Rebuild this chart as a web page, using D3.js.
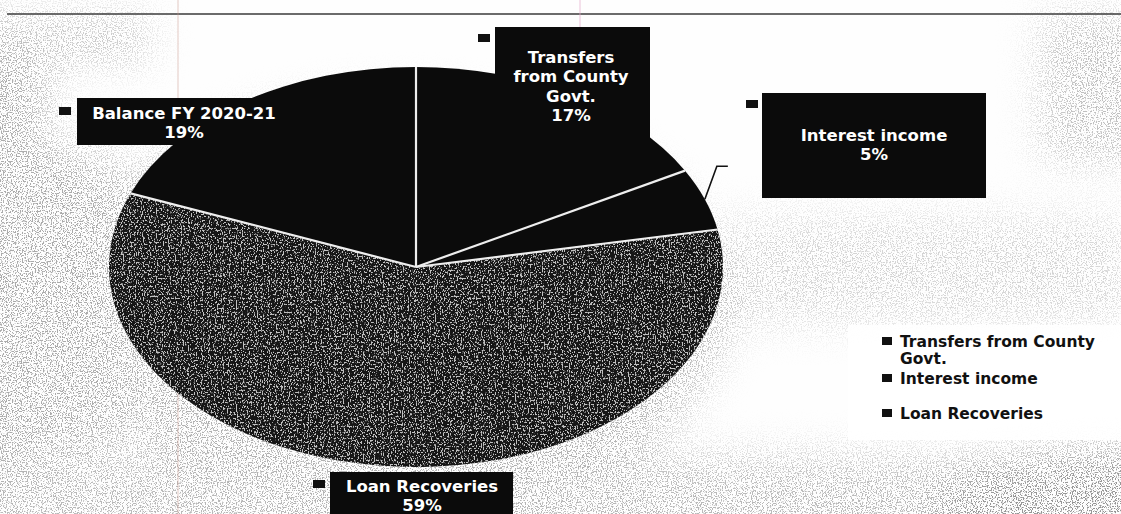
<!DOCTYPE html>
<html lang="en">
<head>
  <meta charset="UTF-8">
  <script src="https://d3js.org/d3.v7.min.js"></script>
  <title>Funding sources</title>
  <style>
    body { margin: 0; background: #fff; }
    text { font-family: "DejaVu Sans", "Open Sans", sans-serif; font-weight: 700; }
  </style>
</head>
<body>
  <script>
    // data
    var categories = ['Transfers from County Govt.', 'Interest income', 'Loan Recoveries', 'Balance FY 2020-21'];
    var percents = [17, 5, 59, 19];
    var labelLines = [['Transfers', 'from County', 'Govt.'], ['Interest income'], ['Loan Recoveries'], ['Balance FY 2020-21']];
    var legendCategories = ['Transfers from County Govt.', 'Interest income', 'Loan Recoveries'];
    var legendLines = [['Transfers from County', 'Govt.'], ['Interest income'], ['Loan Recoveries']];

    var width = 1121, height = 514;
    var cx = 416, cy = 267, rx = 307, ry = 200;

    // label box layout (placed by hand like the original)
    var labelBoxes = [
      {x: 495, y: 27, w: 155, h: 115, tx: 571, ty: 57, mx: 478, my: 34},
      {x: 762, y: 93, w: 224, h: 105, tx: 874, ty: 135, mx: 746, my: 100},
      {x: 330, y: 472, w: 183, h: 60, tx: 422, ty: 486, mx: 313, my: 480},
      {x: 77, y: 98, w: 225, h: 47, tx: 184, ty: 113, mx: 59, my: 107}
    ];
    var sliceFill = ['#0b0b0b', '#0b0b0b', '#161616', '#0b0b0b'];

    var svg = d3.select('body').append('svg')
      .attr('width', width)
      .attr('height', height);

    var defs = svg.append('defs');

    // grey speckle of the photocopy
    var f1 = defs.append('filter').attr('id', 'speck')
      .attr('x', 0).attr('y', 0).attr('width', 1).attr('height', 1);
    f1.append('feTurbulence').attr('type', 'fractalNoise')
      .attr('baseFrequency', 0.8).attr('numOctaves', 2).attr('seed', 4);
    f1.append('feColorMatrix').attr('type', 'matrix')
      .attr('values', '0 0 0 0 0.3  0 0 0 0 0.3  0 0 0 0 0.3  -10 0 0 0 4.85');

    // light speckle for the grey slice
    var f2 = defs.append('filter').attr('id', 'speckW')
      .attr('x', 0).attr('y', 0).attr('width', 1).attr('height', 1);
    f2.append('feTurbulence').attr('type', 'fractalNoise')
      .attr('baseFrequency', '0.85 0.5').attr('numOctaves', 2).attr('seed', 11);
    f2.append('feColorMatrix').attr('type', 'matrix')
      .attr('values', '0 0 0 0 0.85  0 0 0 0 0.85  0 0 0 0 0.85  10 0 0 0 -5.3');

    var blur = defs.append('filter').attr('id', 'soft')
      .attr('x', '-20%').attr('y', '-20%').attr('width', '140%').attr('height', '140%');
    blur.append('feGaussianBlur').attr('stdDeviation', 20);

    // where the scan is dirty
    var mask = defs.append('mask').attr('id', 'dirt')
      .attr('maskUnits', 'userSpaceOnUse')
      .attr('x', 0).attr('y', 0).attr('width', width).attr('height', height);
    mask.append('rect').attr('width', width).attr('height', height).attr('fill', '#000');
    var mg = mask.append('g').attr('filter', 'url(#soft)');
    mg.append('rect').attr('x', -40).attr('y', 14).attr('width', 90).attr('height', height).attr('fill', '#ccc');
    mg.append('rect').attr('x', 0).attr('y', 455).attr('width', width).attr('height', 100).attr('fill', '#aaa');
    mg.append('ellipse').attr('cx', 1110).attr('cy', 505).attr('rx', 170).attr('ry', 60).attr('fill', '#fff');
    mg.append('rect').attr('x', 1040).attr('y', 14).attr('width', 120).attr('height', 150).attr('fill', '#999');
    mg.append('rect').attr('x', 0).attr('y', 14).attr('width', 150).attr('height', 50).attr('fill', '#999');
    mg.append('ellipse').attr('cx', cx - 20).attr('cy', cy + 40).attr('rx', rx + 25).attr('ry', ry + 10).attr('fill', '#bbb');
    mg.append('rect').attr('x', 730).attr('y', 215).attr('width', 400).attr('height', 110).attr('fill', '#666');
    mg.append('rect').attr('x', 30).attr('y', 150).attr('width', 90).attr('height', 300).attr('fill', '#ccc');

    var greyClip = defs.append('clipPath').attr('id', 'greyClip');

    // background + dirt
    svg.append('rect').attr('width', width).attr('height', height).attr('fill', '#fefefe');
    svg.append('rect').attr('width', width).attr('height', height)
      .attr('fill', '#000').attr('filter', 'url(#speck)')
      .attr('mask', 'url(#dirt)');

    // top border of the chart area
    svg.append('line').attr('x1', 7).attr('x2', width).attr('y1', 14).attr('y2', 14)
      .attr('stroke', '#3a3a3a').attr('stroke-width', 1.5);

    // scan artefact lines
    svg.append('line').attr('x1', 178).attr('x2', 178).attr('y1', 0).attr('y2', height)
      .attr('stroke', '#c9968a').attr('stroke-width', 1).attr('opacity', 0.5);
    svg.append('line').attr('x1', 580).attr('x2', 580).attr('y1', 0).attr('y2', 27)
      .attr('stroke', '#e3a9c8').attr('stroke-width', 1).attr('opacity', 0.7);

    // pie, squashed into an ellipse
    var data = categories.map(function(c, i) { return {name: c, value: percents[i], i: i}; });
    var pie = d3.pie().sort(null).value(function(d) { return d.value; });
    var arcs = pie(data);
    var arc = d3.arc().innerRadius(0).outerRadius(rx);

    var pg = svg.append('g')
      .attr('transform', 'translate(' + cx + ',' + cy + ') scale(1,' + (ry / rx) + ')');

    pg.selectAll('path.slice')
      .data(arcs)
      .enter().append('path')
      .attr('class', 'slice')
      .attr('d', arc)
      .attr('fill', function(d) { return sliceFill[d.data.i]; });

    // grain inside the Loan Recoveries slice
    greyClip.append('path')
      .attr('transform', 'translate(' + cx + ',' + cy + ') scale(1,' + (ry / rx) + ')')
      .attr('d', arc(arcs[2]));
    svg.append('rect').attr('x', cx - rx).attr('y', cy - ry).attr('width', rx * 2).attr('height', ry * 2)
      .attr('fill', '#fff').attr('filter', 'url(#speckW)')
      .attr('clip-path', 'url(#greyClip)').attr('opacity', 0.8);

    // white slice dividers
    pg.selectAll('line.div')
      .data(arcs)
      .enter().append('line')
      .attr('class', 'div')
      .attr('x1', 0).attr('y1', 0)
      .attr('x2', function(d) { return rx * Math.sin(d.startAngle); })
      .attr('y2', function(d) { return -rx * Math.cos(d.startAngle); })
      .attr('stroke', '#eeeeee')
      .attr('stroke-width', 2.2)
      .attr('vector-effect', 'non-scaling-stroke');

    // leader line for Interest income, from the slice edge at its middle angle
    var mid = (arcs[1].startAngle + arcs[1].endAngle) / 2;
    var ex = cx + rx * Math.sin(mid), ey = cy - ry * Math.cos(mid);
    svg.append('path')
      .attr('d', 'M' + ex + ',' + ey + 'L' + (ex + 12) + ',' + (ey - 33) + 'L' + (ex + 23) + ',' + (ey - 33))
      .attr('fill', 'none').attr('stroke', '#111').attr('stroke-width', 1.6);

    // data labels
    var lab = svg.selectAll('g.lab')
      .data(arcs)
      .enter().append('g')
      .attr('class', 'lab');

    lab.append('rect')
      .attr('x', function(d) { return labelBoxes[d.data.i].x; })
      .attr('y', function(d) { return labelBoxes[d.data.i].y; })
      .attr('width', function(d) { return labelBoxes[d.data.i].w; })
      .attr('height', function(d) { return labelBoxes[d.data.i].h; })
      .attr('fill', '#0b0b0b');

    lab.append('rect')
      .attr('x', function(d) { return labelBoxes[d.data.i].mx; })
      .attr('y', function(d) { return labelBoxes[d.data.i].my; })
      .attr('width', 12).attr('height', 8)
      .attr('fill', '#111');

    lab.each(function(d) {
      var b = labelBoxes[d.data.i];
      var lines = labelLines[d.data.i].concat([d.data.value + '%']);
      d3.select(this).selectAll('text')
        .data(lines)
        .enter().append('text')
        .attr('x', b.tx)
        .attr('y', function(t, k) { return b.ty + k * 19.3; })
        .attr('dy', '0.36em')
        .attr('text-anchor', 'middle')
        .attr('font-size', 16.5)
        .attr('fill', '#fff')
        .text(function(t) { return t; });
    });

    // legend
    svg.append('rect').attr('x', 848).attr('y', 325).attr('width', 273).attr('height', 115)
      .attr('fill', '#fff').attr('opacity', 0.9);

    var legendY = [341, 378, 413];
    var leg = svg.selectAll('g.leg')
      .data(legendCategories)
      .enter().append('g')
      .attr('class', 'leg');

    leg.append('rect')
      .attr('x', 882)
      .attr('y', function(d, i) { return legendY[i] - 4; })
      .attr('width', 10).attr('height', 8)
      .attr('fill', '#111');

    leg.each(function(d, i) {
      d3.select(this).selectAll('text')
        .data(legendLines[i])
        .enter().append('text')
        .attr('x', 900)
        .attr('y', function(t, k) { return legendY[i] + k * 17; })
        .attr('dy', '0.36em')
        .attr('font-size', 15.5)
        .attr('fill', '#111')
        .text(function(t) { return t; });
    });
  </script>
</body>
</html>
